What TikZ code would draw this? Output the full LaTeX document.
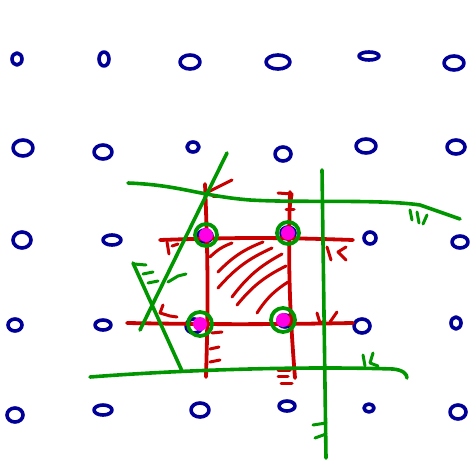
\documentclass[tikz,border=0pt]{standalone}
\usepackage{tikz}
\usetikzlibrary{calc}
\definecolor{inkblue}{RGB}{0,0,150}
\definecolor{inkred}{RGB}{200,0,0}
\definecolor{inkgreen}{RGB}{0,150,0}
\definecolor{inkpink}{RGB}{255,0,230}
\begin{document}
\begin{tikzpicture}[
    x=1pt, y=-1pt,
    line cap=round, line join=round,
    dotring/.style={draw=inkblue, line width=3.6pt},
    redline/.style={draw=inkred, line width=3.8pt},
    redtick/.style={draw=inkred, line width=3pt},
    greenline/.style={draw=inkgreen, line width=3.6pt},
    greentick/.style={draw=inkgreen, line width=3pt},
    spot/.style={fill=inkpink},
    ring/.style={draw=inkgreen, line width=3.8pt},
  ]
    \useasboundingbox (0,0) rectangle (470,465);

    % blue points of the lattice
    \foreach \x/\y/\rx/\ry in {
        17/59/5/6, 104/59/5/7, 190/62/10/7, 278/62/12/7, 369/56/10/4, 454/63/10/7,
        23/148/10/8, 103/152/9/7, 193/147/6/5, 283/154/8/7, 366/146/10/7, 456/147/9/7,
        22/240/9/8, 112/240/9/5, 205/236/7/6, 288/233/7/6, 370/238/6/6, 460/242/8/6,
        15/325/7/6, 103/325/8/5, 194/326/8/7, 285/321/7/6, 362/326/8/7, 456/323/5/6,
        15/415/8/7, 103/410/9/5, 200/410/9/7, 287/406/8/5, 369/408/5/4, 458/412/8/7}{
      \draw[dotring] (\x,\y) ellipse [x radius=\rx, y radius=\ry];
    }

    % red square
    \draw[redline] (205,184) to[bend left=2] (206,377);
    \draw[redline] (290,192) to[bend right=3] (295,378);
    \draw[redline] (160,240) to[bend left=2] (353,240);
    \draw[redline] (127,323) to[bend right=1] (353,323);

    % red hatching
    \foreach \ax/\ay/\bx/\by in {
        210/257/232/243, 218/272/263/242, 218/288/272/248,
        232/297/282/254, 237/305/286/266, 257/313/288/282}{
      \draw[redtick] (\bx,\by) to[bend right=12] (\ax,\ay);
    }

    % red marks
    \draw[redtick] (208,192) -- (232,180);
    \draw[redtick] (213,196) -- (222,196);
    \draw[redtick] (278,193) -- (292,194) -- (290,207);
    \draw[redtick] (286,209) -- (294,209);
    \draw[redtick] (167,242) -- (169,254);
    \draw[redtick] (172,246) -- (178,244);
    \draw[redtick] (327,247) -- (331,260);
    \draw[redtick] (346,247) -- (338,252) -- (346,260);
    \draw[redtick] (163,305) -- (160,313) -- (170,316) -- (177,317);
    \draw[redtick] (212,333) -- (222,332);
    \draw[redtick] (210,349) -- (219,347);
    \draw[redtick] (210,362) -- (220,360);
    \draw[redtick] (278,370) -- (290,370);
    \draw[redtick] (278,376) -- (288,376);
    \draw[redtick] (281,383) -- (292,383);
    \draw[redtick] (317,313) -- (320,323) -- (325,321);
    \draw[redtick] (330,322) -- (337,312);

    % green lines
    \draw[greenline] (128,183) .. controls (180,185) and (200,196) .. (250,200)
      .. controls (300,203) and (380,199) .. (420,205) -- (460,219);
    \draw[greenline] (227,153) -- (140,330);
    \draw[greenline] (133,263) -- (182,371);
    \draw[greenline] (322,170) -- (326,458);
    \draw[greenline] (90,377) .. controls (180,370) and (300,366) .. (393,369)
      .. controls (403,370) and (407,374) .. (407,378);

    % green marks
    \draw[greentick] (410,210) -- (412,220);
    \draw[greentick] (417,212) -- (419,223);
    \draw[greentick] (427,215) -- (423,224);
    \draw[greentick] (134,264) -- (146,265);
    \draw[greentick] (143,274) -- (153,272);
    \draw[greentick] (148,283) -- (158,281);
    \draw[greentick] (168,282) -- (178,276) -- (186,274);
    \draw[greentick] (363,355) -- (365,366);
    \draw[greentick] (373,353) -- (370,363) -- (378,366);
    \draw[greentick] (313,425) -- (326,423);
    \draw[greentick] (315,438) -- (326,434);

    % corner points
    \foreach \x/\y/\r in {206/235/11, 288/233/11, 200/324/12, 283/320/12}{
      \fill[spot] (\x,\y) circle [radius=7];
      \draw[ring] (\x,\y) circle [radius=\r];
    }
  \end{tikzpicture}
\end{document}
